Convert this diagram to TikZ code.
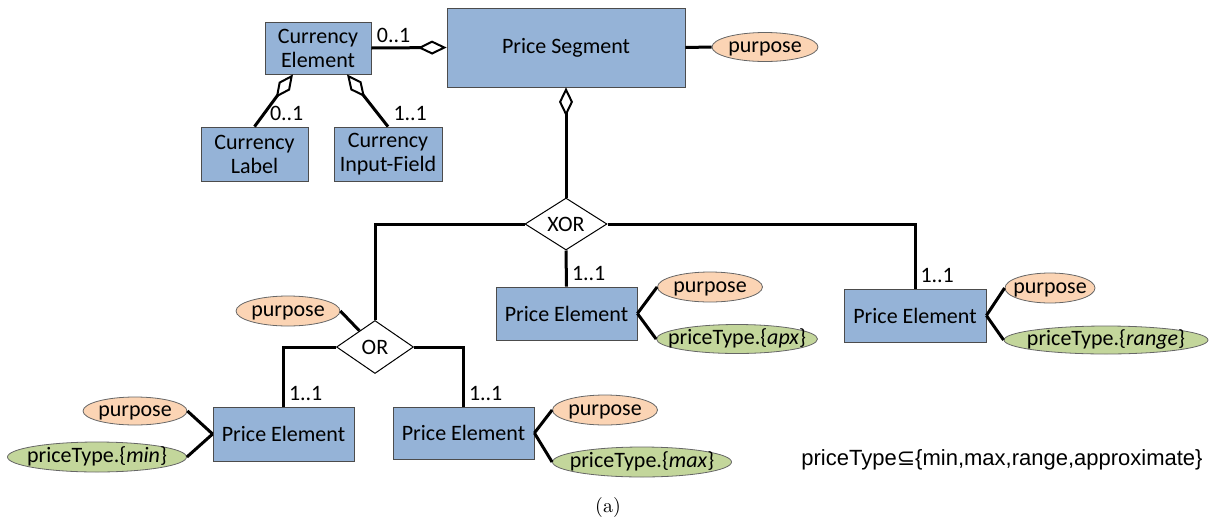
\documentclass[tikz,border=0pt]{standalone}
\usepackage{fontspec}
\usepackage{tikz}
\usetikzlibrary{shapes.geometric,arrows.meta,calc}
\newfontfamily\boxfont{Carlito}
\newfontfamily\arialfont{Liberation Sans}
\newfontfamily\symbfont{DejaVu Sans}
\definecolor{entblue}{HTML}{95B3D7}
\definecolor{purpeach}{HTML}{FBD4B4}
\definecolor{ptgreen}{HTML}{C3D69B}
\tikzset{
  ent/.style={draw=black!70, fill=entblue, inner sep=0pt, align=center, font={\boxfont\fontsize{11}{12}\selectfont}},
  attr/.style={ellipse, draw=black!60, inner xsep=-12pt, inner ysep=-2pt, text height=7.6pt, text depth=2.6pt, font={\boxfont\fontsize{11}{12}\selectfont}},
  purp/.style={attr, fill=purpeach},
  ptype/.style={attr, fill=ptgreen},
  gate/.style={diamond, draw, line width=0.5pt, inner sep=0pt, font={\boxfont\fontsize{11}{12}\selectfont}},
  mult/.style={inner sep=2pt, font={\boxfont\fontsize{11}{12}\selectfont}},
  conn/.style={line width=1.5pt},
  agg/.style={conn, -{Diamond[open, length=14.5pt, width=7pt, line width=1pt]}}
}
\begin{document}
\begin{tikzpicture}[x=0.5pt, y=-0.5pt]
\useasboundingbox (0,0) rectangle (1217,531);
\node [ent, minimum width=53pt, minimum height=26pt] (ce) at (318,48) {Currency\\Element};
\node [ent, minimum width=119pt, minimum height=39.5pt] (ps) at (566,47.5) {Price Segment};
\node [ent, minimum width=53.5pt, minimum height=27pt] (lbl) at (254.5,154) {Currency\\Label};
\node [ent, minimum width=54pt, minimum height=27pt] (inp) at (388,154) {Currency\\Input-Field};
\node [purp, minimum width=53pt, minimum height=14.5pt] (psp) at (765,47) {purpose};
\node [gate, minimum width=41pt, minimum height=26pt] (xor) at (566,224) {XOR};
\node [ent, minimum width=70.5pt, minimum height=26.5pt] (pe2) at (566.5,313.5) {Price Element};
\node [purp, minimum width=52.5pt, minimum height=15pt] (pe2p) at (710,287) {purpose};
\node [ptype, minimum width=80.5pt, minimum height=14.5pt] (pe2t) at (737,339) {priceType.\{\textit{apx}\}};
\node [ent, minimum width=71pt, minimum height=26.5pt] (pe3) at (915,315.5) {Price Element};
\node [purp, minimum width=45pt, minimum height=15pt] (pe3p) at (1050,288) {purpose};
\node [ptype, minimum width=102pt, minimum height=14pt] (pe3t) at (1106,340) {priceType.\{\textit{range}\}};
\node [gate, minimum width=38.5pt, minimum height=26.5pt] (or) at (375,347) {OR};
\node [purp, minimum width=52pt, minimum height=15pt] (orp) at (288,311) {purpose};
\node [ent, minimum width=70.5pt, minimum height=27pt] (pmin) at (283.5,434) {Price Element};
\node [purp, minimum width=52pt, minimum height=14pt] (pminp) at (135,411) {purpose};
\node [ptype, minimum width=89.5pt, minimum height=15pt] (pmint) at (97,457) {priceType.\{\textit{min}\}};
\node [ent, minimum width=70.5pt, minimum height=26pt] (pmax) at (463.5,433) {Price Element};
\node [purp, minimum width=52.5pt, minimum height=15pt] (pmaxp) at (605,410) {purpose};
\node [ptype, minimum width=89.5pt, minimum height=15pt] (pmaxt) at (642,462) {priceType.\{\textit{max}\}};
\node [font={\arialfont\fontsize{11}{13}\selectfont}] (dom) at (1002,460) {priceType{\symbfont ⊆}\{min,max,range,approximate\}};
\node (cap) at (608,507) {(a)};
\coordinate (cel) at ($(ce.south)+(-25,0)$);
\coordinate (cer) at ($(ce.south)+(29,0)$);
\draw [agg] (ce.east) -- node [mult, pos=0, anchor=south west] (m0) {0..1} (ps.west);
\draw [agg] (lbl.north) -- node [mult, pos=0, anchor=south west, xshift=5pt] (m1) {0..1} (cel);
\draw [agg] (inp.north) -- node [mult, pos=0, anchor=south west] (m2) {1..1} (cer);
\draw [conn] (ps.east) -- (psp.west);
\draw [agg] (xor.north) -- (ps.south);
\draw [conn] (xor.south) -- node [mult, pos=1, anchor=south west] (m3) {1..1} (pe2.north);
\draw [conn] (xor.east) -| node [mult, pos=1, anchor=south west] (m4) {1..1} (pe3.north);
\draw [conn] (xor.west) -| (or.north);
\draw [conn] (or.west) -| node [mult, pos=1, anchor=south west] (m5) {1..1} (pmin.north);
\draw [conn] (or.east) -| node [mult, pos=1, anchor=south west] (m6) {1..1} (pmax.north);
\draw [conn] (orp.east) -- (or);
\draw [conn] (pe2.east) -- (pe2p.west);
\draw [conn] (pe2.east) -- (pe2t.west);
\draw [conn] (pe3.east) -- (pe3p.west);
\draw [conn] (pe3.east) -- (pe3t.west);
\draw [conn] (pminp.east) -- (pmin.west);
\draw [conn] (pmint.east) -- (pmin.west);
\draw [conn] (pmax.east) -- (pmaxp.west);
\draw [conn] (pmax.east) -- (pmaxt.west);
\end{tikzpicture}
\end{document}
